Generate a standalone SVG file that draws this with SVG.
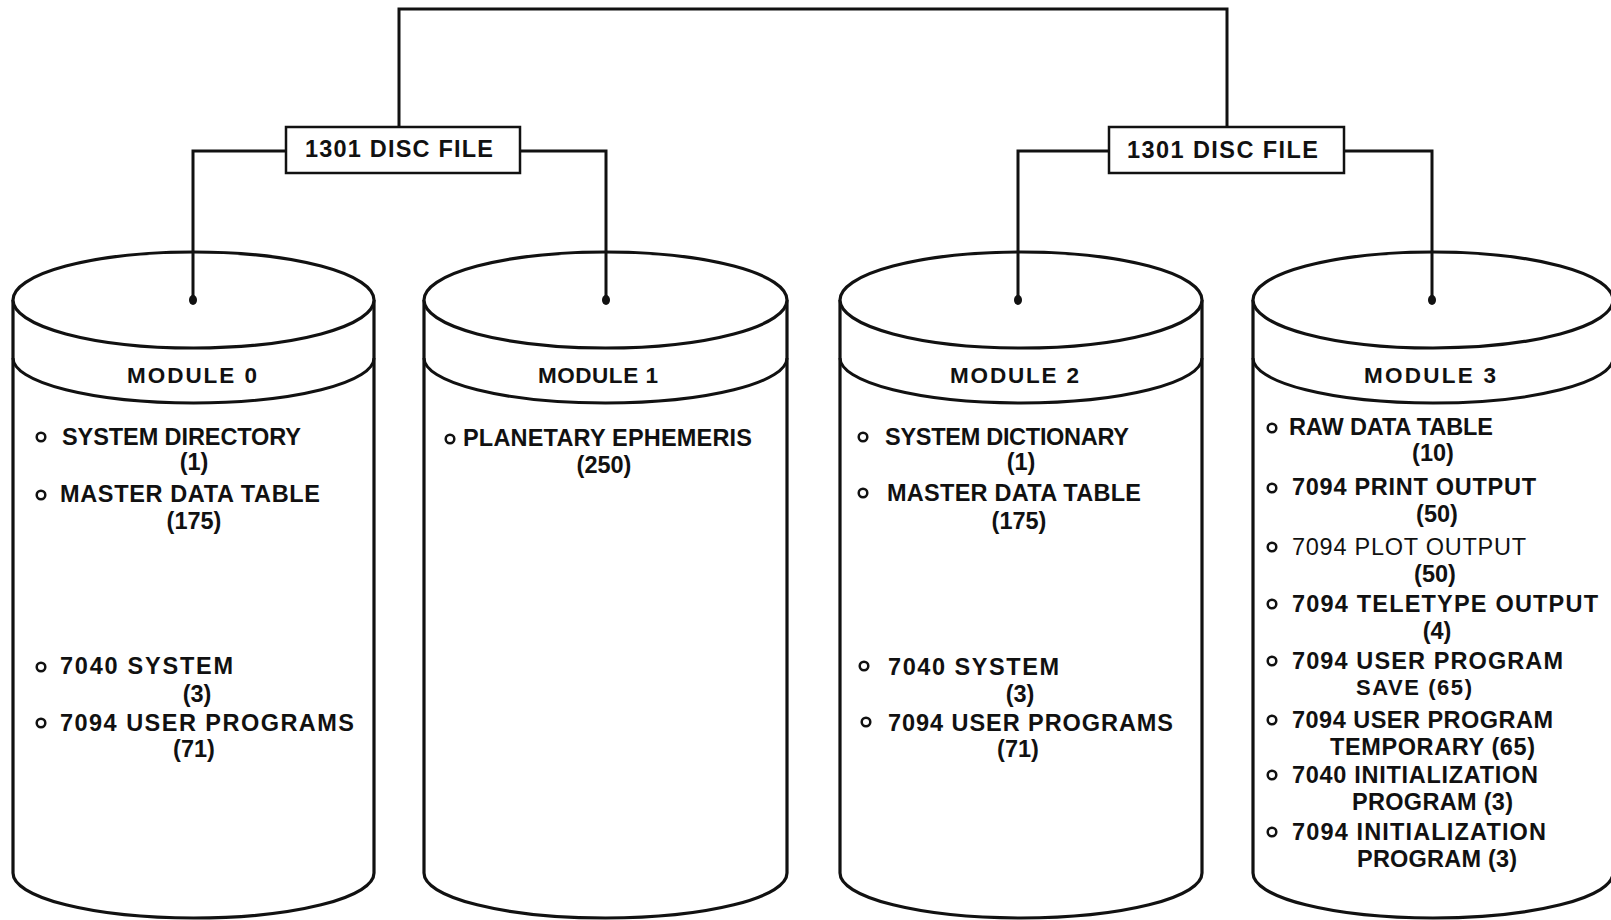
<svg xmlns="http://www.w3.org/2000/svg" width="1611" height="920" viewBox="0 0 1611 920">
<style>
.t{font-family:"Liberation Sans",Arial,sans-serif;font-weight:bold;font-size:23.5px;fill:#111}
.m{font-size:22.5px}
.s{font-size:22px}
.c{text-anchor:middle}
.thin{font-weight:normal}
.ln{fill:none;stroke:#111;stroke-width:3;stroke-linejoin:miter}
.cy{fill:#fff;stroke:#111;stroke-width:3.2}
.arc{fill:none;stroke:#111;stroke-width:3}
.b{fill:none;stroke:#111;stroke-width:2.5}
.box{fill:#fff;stroke:#111;stroke-width:2.5}
</style>
<rect width="1611" height="920" fill="#fff"/>
<g id="cyl0">
<path class="cy" d="M13,300 V873 A180.5,45 0 0 0 374,873 V300"/>
<ellipse class="cy" cx="193.5" cy="300" rx="180.5" ry="48"/>
<path class="arc" d="M13,358 A180.5,45 0 0 0 374,358"/>
<text class="t m" x="127" y="383" textLength="130" lengthAdjust="spacing">MODULE 0</text>
<circle class="b" cx="41" cy="437" r="4.3"/>
<text class="t" x="62" y="445" textLength="239" lengthAdjust="spacing">SYSTEM DIRECTORY</text>
<text class="t c" x="194" y="470">(1)</text>
<circle class="b" cx="41" cy="495" r="4.3"/>
<text class="t" x="60" y="502" textLength="260" lengthAdjust="spacing">MASTER DATA TABLE</text>
<text class="t c" x="194" y="529">(175)</text>
<circle class="b" cx="41" cy="667" r="4.3"/>
<text class="t" x="60" y="674" textLength="173" lengthAdjust="spacing">7040 SYSTEM</text>
<text class="t c" x="197" y="702">(3)</text>
<circle class="b" cx="41" cy="723" r="4.3"/>
<text class="t" x="60" y="731" textLength="294" lengthAdjust="spacing">7094 USER PROGRAMS</text>
<text class="t c" x="194" y="757">(71)</text>
</g>
<g id="cyl1">
<path class="cy" d="M424,300 V873 A181.5,45 0 0 0 787,873 V300"/>
<ellipse class="cy" cx="605.5" cy="300" rx="181.5" ry="48"/>
<path class="arc" d="M424,358 A181.5,45 0 0 0 787,358"/>
<text class="t m" x="538" y="383" textLength="120" lengthAdjust="spacing">MODULE 1</text>
<circle class="b" cx="450" cy="439" r="4.3"/>
<text class="t" x="463" y="446" textLength="289" lengthAdjust="spacing">PLANETARY EPHEMERIS</text>
<text class="t c" x="604" y="473">(250)</text>
</g>
<g id="cyl2">
<path class="cy" d="M840,300 V873 A181,45 0 0 0 1202,873 V300"/>
<ellipse class="cy" cx="1021" cy="300" rx="181" ry="48"/>
<path class="arc" d="M840,358 A181,45 0 0 0 1202,358"/>
<text class="t m" x="950" y="383" textLength="129" lengthAdjust="spacing">MODULE 2</text>
<circle class="b" cx="863" cy="437" r="4.3"/>
<text class="t" x="885" y="445" textLength="244" lengthAdjust="spacing">SYSTEM DICTIONARY</text>
<text class="t c" x="1021" y="470">(1)</text>
<circle class="b" cx="863" cy="493" r="4.3"/>
<text class="t" x="887" y="501" textLength="254" lengthAdjust="spacing">MASTER DATA TABLE</text>
<text class="t c" x="1019" y="529">(175)</text>
<circle class="b" cx="864" cy="666" r="4.3"/>
<text class="t" x="888" y="675" textLength="171" lengthAdjust="spacing">7040 SYSTEM</text>
<text class="t c" x="1020" y="702">(3)</text>
<circle class="b" cx="866" cy="722" r="4.3"/>
<text class="t" x="888" y="731" textLength="285" lengthAdjust="spacing">7094 USER PROGRAMS</text>
<text class="t c" x="1018" y="757">(71)</text>
</g>
<g id="cyl3">
<path class="cy" d="M1253,300 V873 A180,45 0 0 0 1613,873 V300"/>
<ellipse class="cy" cx="1433" cy="300" rx="180" ry="48"/>
<path class="arc" d="M1253,358 A180,45 0 0 0 1613,358"/>
<text class="t m" x="1364" y="383" textLength="132" lengthAdjust="spacing">MODULE 3</text>
<circle class="b" cx="1272" cy="428" r="4.3"/>
<text class="t" x="1289" y="435" textLength="204" lengthAdjust="spacing">RAW DATA TABLE</text>
<text class="t c" x="1433" y="461">(10)</text>
<circle class="b" cx="1272" cy="488" r="4.3"/>
<text class="t" x="1292" y="495" textLength="244" lengthAdjust="spacing">7094 PRINT OUTPUT</text>
<text class="t c" x="1437" y="522">(50)</text>
<circle class="b" cx="1272" cy="547" r="4.3"/>
<text class="t thin" x="1292" y="555" textLength="234" lengthAdjust="spacing">7094 PLOT OUTPUT</text>
<text class="t c" x="1435" y="582">(50)</text>
<circle class="b" cx="1272" cy="604" r="4.3"/>
<text class="t" x="1292" y="612" textLength="306" lengthAdjust="spacing">7094 TELETYPE OUTPUT</text>
<text class="t c" x="1437" y="639">(4)</text>
<circle class="b" cx="1272" cy="661" r="4.3"/>
<text class="t" x="1292" y="669" textLength="271" lengthAdjust="spacing">7094 USER PROGRAM</text>
<text class="t s" x="1356" y="695" textLength="116" lengthAdjust="spacing">SAVE (65)</text>
<circle class="b" cx="1272" cy="720" r="4.3"/>
<text class="t" x="1292" y="728" textLength="261" lengthAdjust="spacing">7094 USER PROGRAM</text>
<text class="t" x="1330" y="755" textLength="205" lengthAdjust="spacing">TEMPORARY (65)</text>
<circle class="b" cx="1272" cy="775" r="4.3"/>
<text class="t" x="1292" y="783" textLength="246" lengthAdjust="spacing">7040 INITIALIZATION</text>
<text class="t" x="1352" y="810" textLength="161" lengthAdjust="spacing">PROGRAM (3)</text>
<circle class="b" cx="1272" cy="832" r="4.3"/>
<text class="t" x="1292" y="840" textLength="254" lengthAdjust="spacing">7094 INITIALIZATION</text>
<text class="t" x="1357" y="867" textLength="160" lengthAdjust="spacing">PROGRAM (3)</text>
</g>
<g id="connectors">
<path class="ln" d="M399,127 V9 H1227 V127"/>
<path class="ln" d="M286,151 H193 V300"/>
<path class="ln" d="M520,151 H606 V300"/>
<path class="ln" d="M1109,151 H1018 V300"/>
<path class="ln" d="M1344,151 H1432 V300"/>
<ellipse cx="193" cy="300" rx="4" ry="5" fill="#111"/>
<ellipse cx="606" cy="300" rx="4" ry="5" fill="#111"/>
<ellipse cx="1018" cy="300" rx="4" ry="5" fill="#111"/>
<ellipse cx="1432" cy="300" rx="4" ry="5" fill="#111"/>
</g>
<g id="box-left">
<rect class="box" x="286" y="127" width="234" height="46"/>
<text class="t" x="305" y="157" textLength="188" lengthAdjust="spacing">1301 DISC FILE</text>
</g>
<g id="box-right">
<rect class="box" x="1109" y="127" width="235" height="46"/>
<text class="t" x="1127" y="158" textLength="191" lengthAdjust="spacing">1301 DISC FILE</text>
</g>
</svg>
